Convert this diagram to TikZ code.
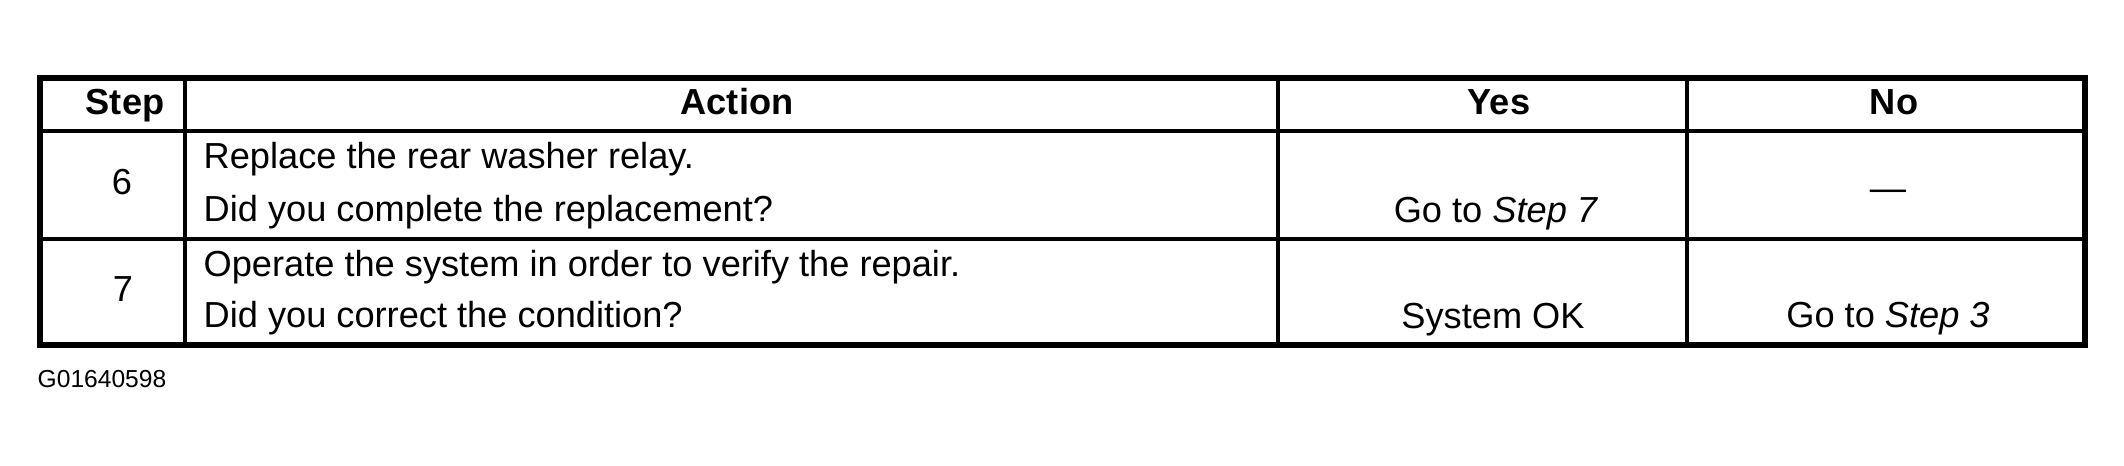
\documentclass[tikz,border=0pt]{standalone}
\usepackage{fontspec}
\setmainfont{Liberation Sans}
\newcommand{\tabfont}{\fontsize{10.3}{12}\selectfont}

\begin{document}
\begin{tikzpicture}[inner sep=0pt,
  head/.style={anchor=base, font=\tabfont\bfseries},
  entry/.style={anchor=base west, font=\tabfont},
  answer/.style={anchor=base, font=\tabfont}]
\useasboundingbox (0,0) rectangle (21.24cm, 4.66cm);
%frame
\draw[line width=1.45pt] (0.40cm, 1.21cm) rectangle (20.85cm, 3.88cm);
%rows
\draw[line width=1.25pt] (0.40cm, 3.35cm) -- (20.85cm, 3.35cm);
\draw[line width=1.2pt] (0.40cm, 2.27cm) -- (20.85cm, 2.27cm);
%columns
\foreach \x in {1.85, 12.78, 16.87}
{
  \draw[line width=1.1pt] (\x cm, 1.21cm) -- (\x cm, 3.88cm);
}
%header
\node[head, anchor=base east] (hstep) at (1.65cm, 3.51cm) {Step};
\node[head] (haction) at (7.37cm, 3.51cm) {Action};
\node[head] (hyes) at (14.99cm, 3.51cm) {Yes};
\node[head] (hno) at (18.94cm, 3.51cm) {No};
%step 6
\node[answer] (num6) at (1.22cm, 2.71cm) {6};
\node[entry] (act6a) at (2.03cm, 2.97cm) {Replace the rear washer relay.};
\node[entry] (act6b) at (2.03cm, 2.44cm) {Did you complete the replacement?};
\node[answer] (yes6) at (14.96cm, 2.43cm) {Go to \textit{Step 7}};
\node[answer] (no6) at (18.88cm, 2.65cm) {—};
%step 7
\node[answer] (num7) at (1.23cm, 1.64cm) {7};
\node[entry] (act7a) at (2.03cm, 1.89cm) {Operate the system in order to verify the repair.};
\node[entry] (act7b) at (2.03cm, 1.38cm) {Did you correct the condition?};
\node[answer] (yes7) at (14.93cm, 1.37cm) {System OK};
\node[answer] (no7) at (18.88cm, 1.38cm) {Go to \textit{Step 3}};
%figure number
\node[anchor=base west, font=\fontsize{7}{8}\selectfont] (fig) at (0.37cm, 0.78cm) {G01640598};
\end{tikzpicture}
\end{document}
